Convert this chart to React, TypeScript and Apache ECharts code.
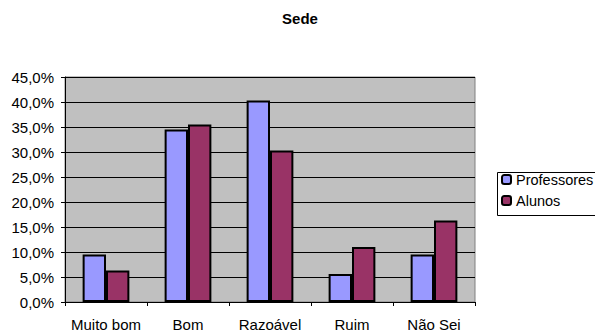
import React, { useEffect, useRef } from "react";
import * as echarts from "echarts";

const categories = ["Muito bom", "Bom", "Razoável", "Ruim", "Não Sei"];
const professores = [9.5, 34.5, 40.3, 5.6, 9.5];
const alunos = [6.3, 35.5, 30.3, 11.0, 16.3];
const yTicks = { min: 0, max: 45, interval: 5 };

export default function App() {
  const ref = useRef<HTMLDivElement>(null);
  useEffect(() => {
    const chart = echarts.init(ref.current!, null, { renderer: "svg" });
    const font = "Liberation Sans";
    chart.setOption({
      animation: false,
      backgroundColor: "#ffffff",
      textStyle: { fontFamily: font },
      title: {
        text: "Sede",
        left: 300,
        textAlign: "center",
        top: 11,
        padding: 0,
        textStyle: { fontSize: 15, fontWeight: "bold", color: "#000", fontFamily: font },
      },
      grid: {
        left: 65,
        top: 77,
        right: 120,
        bottom: 30,
        show: true,
        backgroundColor: "#C0C0C0",
        borderColor: "#808080",
        borderWidth: 1,
      },
      legend: {
        orient: "vertical",
        left: 501,
        top: 172,
        padding: 0,
        itemWidth: 9,
        itemHeight: 9,
        itemGap: 6,
        textStyle: { fontSize: 14.5, lineHeight: 15, color: "#000", fontFamily: font },
        data: ["Professores", "Alunos"],
      },
      graphic: [
        {
          type: "rect",
          shape: { x: 497.5, y: 172.5, width: 110, height: 43 },
          style: { fill: "none", stroke: "#000", lineWidth: 1 },
          z: 0,
        },
      ],
      xAxis: {
        type: "category",
        data: categories,
        axisLine: { lineStyle: { color: "#000", width: 1 } },
        axisTick: { show: true, length: 4, lineStyle: { color: "#000" } },
        axisLabel: { interval: 0, fontSize: 15, color: "#000", margin: 15, fontFamily: font },
      },
      yAxis: {
        type: "value",
        min: yTicks.min,
        max: yTicks.max,
        interval: yTicks.interval,
        axisLine: { show: true, lineStyle: { color: "#000", width: 1 } },
        axisTick: { show: true, length: 4, lineStyle: { color: "#000" } },
        axisLabel: {
          fontSize: 15,
          color: "#000",
          margin: 11,
          fontFamily: font,
          formatter: (v: number) => v.toFixed(1).replace(".", ",") + "%",
        },
        splitLine: { show: true, lineStyle: { color: "#000", width: 1 } },
      },
      series: [
        {
          name: "Professores",
          type: "bar",
          data: professores,
          barGap: "0%",
          barCategoryGap: "43%",
          itemStyle: { color: "#9999FF", borderColor: "#000", borderWidth: 2 },
        },
        {
          name: "Alunos",
          type: "bar",
          data: alunos,
          barGap: "0%",
          barCategoryGap: "43%",
          itemStyle: { color: "#993366", borderColor: "#000", borderWidth: 2 },
        },
      ],
    });
    return () => chart.dispose();
  }, []);
  return (
    <div
      ref={ref}
      style={{ position: "fixed", left: 0, top: 0, width: 595, height: 332 }}
    />
  );
}
